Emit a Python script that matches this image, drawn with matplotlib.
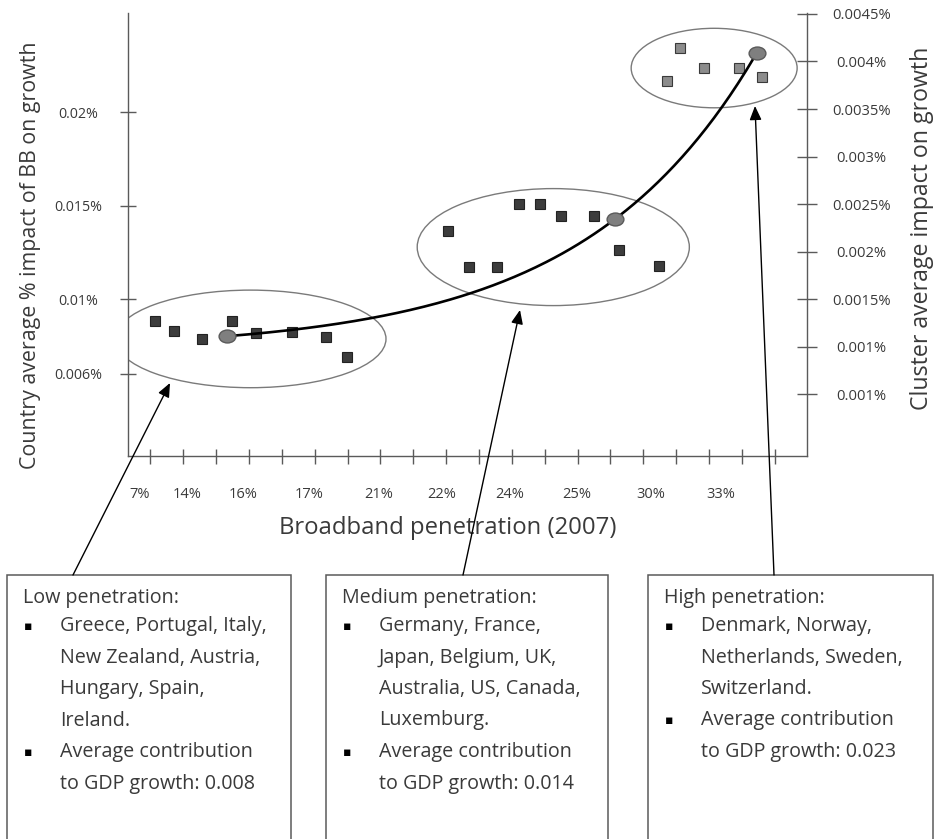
import numpy as np
import matplotlib
matplotlib.use("Agg")
import matplotlib.pyplot as plt
from matplotlib.patches import Ellipse, Rectangle, FancyArrowPatch
from matplotlib.markers import MarkerStyle
from matplotlib.transforms import Affine2D

plt.rcParams['font.family'] = ['Open Sans', 'DejaVu Sans']

################################################################################################
# Data.
# x = slot on the broadband penetration axis (ticks at 1..20), y = country impact (left axis)

LOW_X = [1.13, 1.71, 2.56, 3.47, 4.21, 5.30, 6.34, 6.97]
LOW_Y = [0.00883, 0.00829, 0.00786, 0.00883, 0.00818, 0.00824, 0.00797, 0.00690]

MED_X = [10.05, 10.69, 11.54, 12.21, 12.85, 13.49, 14.49, 15.25, 16.47]
MED_Y = [0.01365, 0.01172, 0.01172, 0.01509, 0.01509, 0.01445, 0.01445, 0.01263, 0.01177]

HIGH_X = [16.71, 17.11, 17.84, 18.90, 19.60]
HIGH_Y = [0.02169, 0.02345, 0.02238, 0.02238, 0.02190]

# cluster averages, right axis
CLUSTER_X = [3.32, 15.13, 19.45]
CLUSTER_Y = [0.00111, 0.00234, 0.00409]

PEN_LABELS = ["7%", "14%", "16%", "17%", "21%", "22%", "24%", "25%", "30%", "33%"]
PEN_LABEL_POS = [0.67, 2.11, 3.82, 5.83, 7.96, 9.86, 11.93, 13.96, 16.23, 18.36]

LEFT_TICKS = [0.006, 0.01, 0.015, 0.02]
LEFT_LABELS = ["0.006%", "0.01%", "0.015%", "0.02%"]

RIGHT_TICKS = [0.0005, 0.001, 0.0015, 0.002, 0.0025, 0.003, 0.0035, 0.004, 0.0045]
RIGHT_LABELS = ["0.001%", "0.001%", "0.0015%", "0.002%", "0.0025%", "0.003%",
                "0.0035%", "0.004%", "0.0045%"]

BOX_TITLES = ["Low penetration:", "Medium penetration:", "High penetration:"]
BOX_BULLETS = [
    [["Greece, Portugal, Italy,", "New Zealand, Austria,", "Hungary, Spain,", "Ireland."],
     ["Average contribution", "to GDP growth: 0.008"]],
    [["Germany, France,", "Japan, Belgium, UK,", "Australia, US, Canada,", "Luxemburg."],
     ["Average contribution", "to GDP growth: 0.014"]],
    [["Denmark, Norway,", "Netherlands, Sweden,", "Switzerland."],
     ["Average contribution", "to GDP growth: 0.023"]],
]

################################################################################################
# Layout (image pixels, origin top-left)

W, H = 936, 839
AX_LEFT, AX_RIGHT, AX_TOP, AX_BOTTOM = 128, 807, 13, 456
BOX_X = [(7, 291), (326, 608), (648, 933)]
BOX_TOP = 575
ARROWS = [((73, 575), (170, 383)), ((463, 575), (520, 310)), ((774, 575), (755, 106))]
ELLIPSE_PAD = [(2.4, 0.0033, 0.0), (1.86, 0.0029, -0.00062), (2.16, 0.0025, -0.00019)]

TXT = '#3a3a3a'
AXC = '#5a5a5a'
BOX_FS = 14.2


def fx(px):
    return px / W


def fy(py):
    return 1 - py / H


fig = plt.figure(figsize=(W / 100, H / 100), dpi=100)
ax = fig.add_axes([fx(AX_LEFT), fy(AX_BOTTOM), fx(AX_RIGHT) - fx(AX_LEFT), fy(AX_TOP) - fy(AX_BOTTOM)])
ax.set_xlim(0.32, 20.98)
ax.set_ylim(0.00159, 0.02533)
ax2 = ax.twinx()
ax2.set_ylim(-0.00015, 0.00451)

for s in ['top', 'right']:
    ax.spines[s].set_visible(False)
for s in ['top', 'left', 'bottom']:
    ax2.spines[s].set_visible(False)
for sp in [ax.spines['left'], ax.spines['bottom'], ax2.spines['right']]:
    sp.set_color(AXC)
    sp.set_linewidth(1.0)

# x axis: plain ticks, labels sit between them
ax.set_xticks(range(1, 21))
ax.set_xticklabels([])
ax.set_xticks(PEN_LABEL_POS, minor=True)
ax.set_xticklabels(PEN_LABELS, minor=True)
ax.tick_params(axis='x', which='major', direction='inout', length=10.8, width=1, color=AXC)
ax.tick_params(axis='x', which='minor', length=0, pad=22, labelsize=10.5, labelcolor=TXT)

ax.set_yticks(LEFT_TICKS)
ax.set_yticklabels(LEFT_LABELS)
ax.tick_params(axis='y', direction='inout', length=11.5, width=1, color=AXC,
               pad=30.2, labelsize=10.3, labelcolor=TXT)
plt.setp(ax.get_yticklabels(), ha='center')

ax2.set_yticks(RIGHT_TICKS)
ax2.set_yticklabels(RIGHT_LABELS)
ax2.tick_params(axis='y', direction='inout', length=13.7, width=1, color=AXC,
                pad=32.4, labelsize=10.6, labelcolor=TXT)
plt.setp(ax2.get_yticklabels(), ha='center')

ax.set_xlabel("Broadband penetration (2007)", fontsize=17.2, color=TXT, va='center')
ax.xaxis.set_label_coords((448 - AX_LEFT) / (AX_RIGHT - AX_LEFT), (AX_BOTTOM - 528) / (AX_BOTTOM - AX_TOP))
ax.set_ylabel("Country average % impact of BB on growth", fontsize=15.4, color=TXT, va='center')
ax.yaxis.set_label_coords((31 - AX_LEFT) / (AX_RIGHT - AX_LEFT), (AX_BOTTOM - 255) / (AX_BOTTOM - AX_TOP))
ax2.set_ylabel("Cluster average impact on growth", fontsize=16.7, color=TXT, va='center', rotation=90)
ax2.yaxis.set_label_coords((922 - AX_LEFT) / (AX_RIGHT - AX_LEFT), (AX_BOTTOM - 228) / (AX_BOTTOM - AX_TOP))

# ellipses round each cluster
for (xs, ys), (px, py, dy) in zip([(LOW_X, LOW_Y), (MED_X, MED_Y), (HIGH_X, HIGH_Y)], ELLIPSE_PAD):
    cx = (min(xs) + max(xs)) / 2
    cy = (min(ys) + max(ys)) / 2 + dy
    ax.add_patch(Ellipse((cx, cy), max(xs) - min(xs) + px, max(ys) - min(ys) + py,
                         fill=False, edgecolor='#7a7a7a', lw=1.0, zorder=1))

ax.plot(LOW_X + MED_X, LOW_Y + MED_Y, ls='none', marker='s', ms=6.8,
        mfc='#3c3c3c', mec='#222222', mew=0.8, zorder=3)
ax.plot(HIGH_X, HIGH_Y, ls='none', marker='s', ms=6.8,
        mfc='#8c8c8c', mec='#3a3a3a', mew=0.8, zorder=3)

# trend through the cluster averages: v = c + A*exp(b*x), exact through the three points
x1, x2, x3 = CLUSTER_X
v1, v2, v3 = CLUSTER_Y
ratio = (v3 - v2) / (v2 - v1)
lo, hi = 1e-4, 2.0
for _ in range(80):
    b = (lo + hi) / 2
    r = (np.exp(b * x3) - np.exp(b * x2)) / (np.exp(b * x2) - np.exp(b * x1))
    if r > ratio:
        hi = b
    else:
        lo = b
A = (v2 - v1) / (np.exp(b * x2) - np.exp(b * x1))
c = v1 - A * np.exp(b * x1)
xx = np.linspace(x1, x3, 200)
ax2.plot(xx, c + A * np.exp(b * xx), color='black', lw=1.9, zorder=4)

oval = MarkerStyle('o', transform=Affine2D().scale(1.3, 1.0))
ax2.plot(CLUSTER_X, CLUSTER_Y, ls='none', marker=oval, ms=9.3,
         mfc='#7f7f7f', mec='#5a5a5a', mew=1.0, zorder=5)

# boxes with the cluster descriptions
for (bx0, bx1), title, bullets in zip(BOX_X, BOX_TITLES, BOX_BULLETS):
    fig.add_artist(Rectangle((fx(bx0), fy(H + 10)), fx(bx1) - fx(bx0), fy(BOX_TOP) - fy(H + 10),
                             transform=fig.transFigure, fill=False, edgecolor=AXC, lw=1.1))
    fig.text(fx(bx0 + 16), fy(598), title, fontsize=BOX_FS, color=TXT, va='center')
    line = 0
    for bullet in bullets:
        y = 626 + 31.5 * line
        fig.text(fx(bx0 + 21), fy(y), "\u25aa", family='DejaVu Sans', fontsize=9,
                 color='black', va='center', ha='center')
        for t in bullet:
            fig.text(fx(bx0 + 53), fy(626 + 31.5 * line), t, fontsize=BOX_FS, color=TXT, va='center')
            line += 1

for (tx, ty), (hx, hy) in ARROWS:
    fig.add_artist(FancyArrowPatch((fx(tx), fy(ty)), (fx(hx), fy(hy)), transform=fig.transFigure,
                                   arrowstyle='-|>,head_length=0.7,head_width=0.3',
                                   mutation_scale=12, lw=1.0, color='black',
                                   shrinkA=0, shrinkB=0))

fig.savefig("out.png", dpi=100)
